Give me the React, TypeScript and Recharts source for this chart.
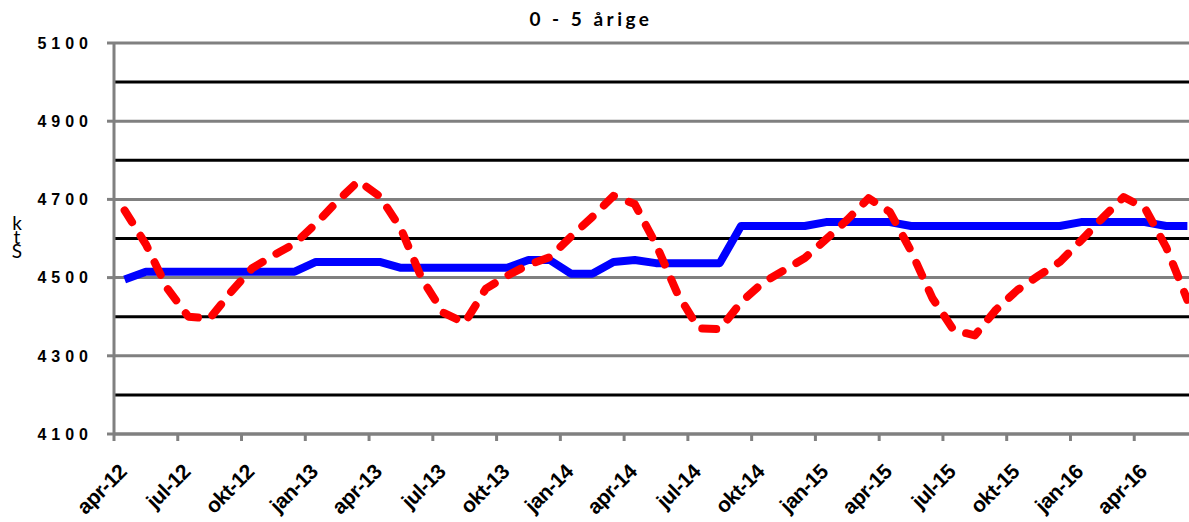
import { LineChart, Line, XAxis, YAxis, ReferenceLine } from 'recharts';

const monthNames = ['jan', 'feb', 'mar', 'apr', 'maj', 'jun', 'jul', 'aug', 'sep', 'okt', 'nov', 'dec'];

// monthly points, apr-12 .. jun-16
const months: string[] = [];
for (let i = 0; i < 51; i++) {
  const m = (3 + i) % 12;
  const y = 12 + Math.floor((3 + i) / 12);
  months.push(`${monthNames[m]}-${y}`);
}

// blue, solid
const adjusted = [
  4495, 4515, 4515, 4515, 4515, 4515, 4515, 4515, 4515, 4540,
  4540, 4540, 4540, 4525, 4525, 4525, 4525, 4525, 4525, 4545,
  4545, 4510, 4510, 4540, 4545, 4537, 4537, 4537, 4537, 4632,
  4632, 4632, 4632, 4642, 4642, 4642, 4642, 4632, 4632, 4632,
  4632, 4632, 4632, 4632, 4632, 4642, 4642, 4642, 4642, 4632,
  4632,
];

// red, dashed
const actual = [
  4672, 4585, 4473, 4400, 4395, 4463, 4524, 4557, 4587, 4638,
  4695, 4747, 4708, 4625, 4495, 4410, 4384, 4472, 4505, 4533,
  4552, 4605, 4655, 4709, 4688, 4585, 4460, 4370, 4368, 4437,
  4486, 4518, 4550, 4598, 4648, 4703, 4668, 4568, 4448, 4366,
  4352, 4418, 4468, 4505, 4540, 4595, 4652, 4706, 4678, 4578,
  4443,
];

const yTicks = [4100, 4300, 4500, 4700, 4900, 5100];
const grayLines = [4100, 4300, 4500, 4700, 4900, 5100];
const blackLines = [4200, 4400, 4600, 4800, 5000];
const xTicks = [0, 3, 6, 9, 12, 15, 18, 21, 24, 27, 30, 33, 36, 39, 42, 45, 48];

// points sit in the middle of each month
const data = months.map((m, i) => ({ t: i + 0.5, month: m, adjusted: adjusted[i], actual: actual[i] }));

const YTick = (props: any) => {
  const { x, y, payload } = props;
  return (
    <text x={x - 12} y={y} dy="0.36em" textAnchor="end" fontFamily="'Liberation Sans', Arial, sans-serif"
      fontWeight="bold" fontSize={16} letterSpacing={5} fill="#000">
      {payload.value}
    </text>
  );
};

const XTick = (props: any) => {
  const { x, y, payload } = props;
  const tx = x + 14;
  const ty = y + 30;
  return (
    <text x={tx} y={ty} textAnchor="end" transform={`rotate(-45, ${tx}, ${ty})`}
      fontFamily="'Liberation Sans', Arial, sans-serif" fontWeight="bold" fontSize={21} letterSpacing={-0.5} fill="#000">
      {months[payload.value]}
    </text>
  );
};

// stacked upright letters, as in the original
const yLabel = () => (
  <text x={17} y={211} fontFamily="Lato, sans-serif" fontSize={19} fill="#000" letterSpacing={-9}
    style={{ writingMode: 'vertical-rl', textOrientation: 'upright' } as any}>
    ktS
  </text>
);

export default function App() {
  return (
    <div style={{ position: 'fixed', left: 0, top: 0, width: 1189, height: 522, overflow: 'hidden', background: '#fff' }}>
      <div style={{
        position: 'absolute', left: 491, top: 9, width: 200, textAlign: 'center',
        fontFamily: 'Lato, sans-serif', fontWeight: 'bold', fontSize: 19, lineHeight: '20px', letterSpacing: 3.5,
      }}>
        0 - 5 årige
      </div>
      <LineChart width={1200} height={522} data={data} margin={{ top: 43, right: 2, bottom: 0, left: 0 }}>
        {blackLines.map(v => (
          <ReferenceLine key={`b${v}`} y={v} stroke="#000" strokeWidth={3} />
        ))}
        {grayLines.map(v => (
          <ReferenceLine key={`g${v}`} y={v} stroke="#808080" strokeWidth={3} />
        ))}
        <XAxis
          dataKey="t"
          type="number"
          domain={[0, 51]}
          ticks={xTicks}
          height={88}
          axisLine={{ stroke: '#808080', strokeWidth: 3 }}
          tickLine={{ stroke: '#808080', strokeWidth: 3 }}
          tickSize={7}
          tick={<XTick />}
          interval={0}
        />
        <YAxis
          domain={[4100, 5100]}
          ticks={yTicks}
          width={114}
          axisLine={{ stroke: '#808080', strokeWidth: 3 }}
          tickLine={{ stroke: '#808080', strokeWidth: 3 }}
          tickSize={7}
          tick={<YTick />}
          interval={0}
          label={{ content: yLabel }}
        />
        <Line
          dataKey="adjusted"
          stroke="#0000ff"
          strokeWidth={8}
          dot={false}
          strokeLinejoin="round"
          isAnimationActive={false}
        />
        <Line
          dataKey="actual"
          stroke="#ff0000"
          strokeWidth={8}
          strokeDasharray="14 16"
          strokeLinecap="round"
          strokeLinejoin="round"
          dot={false}
          isAnimationActive={false}
        />
      </LineChart>
    </div>
  );
}
